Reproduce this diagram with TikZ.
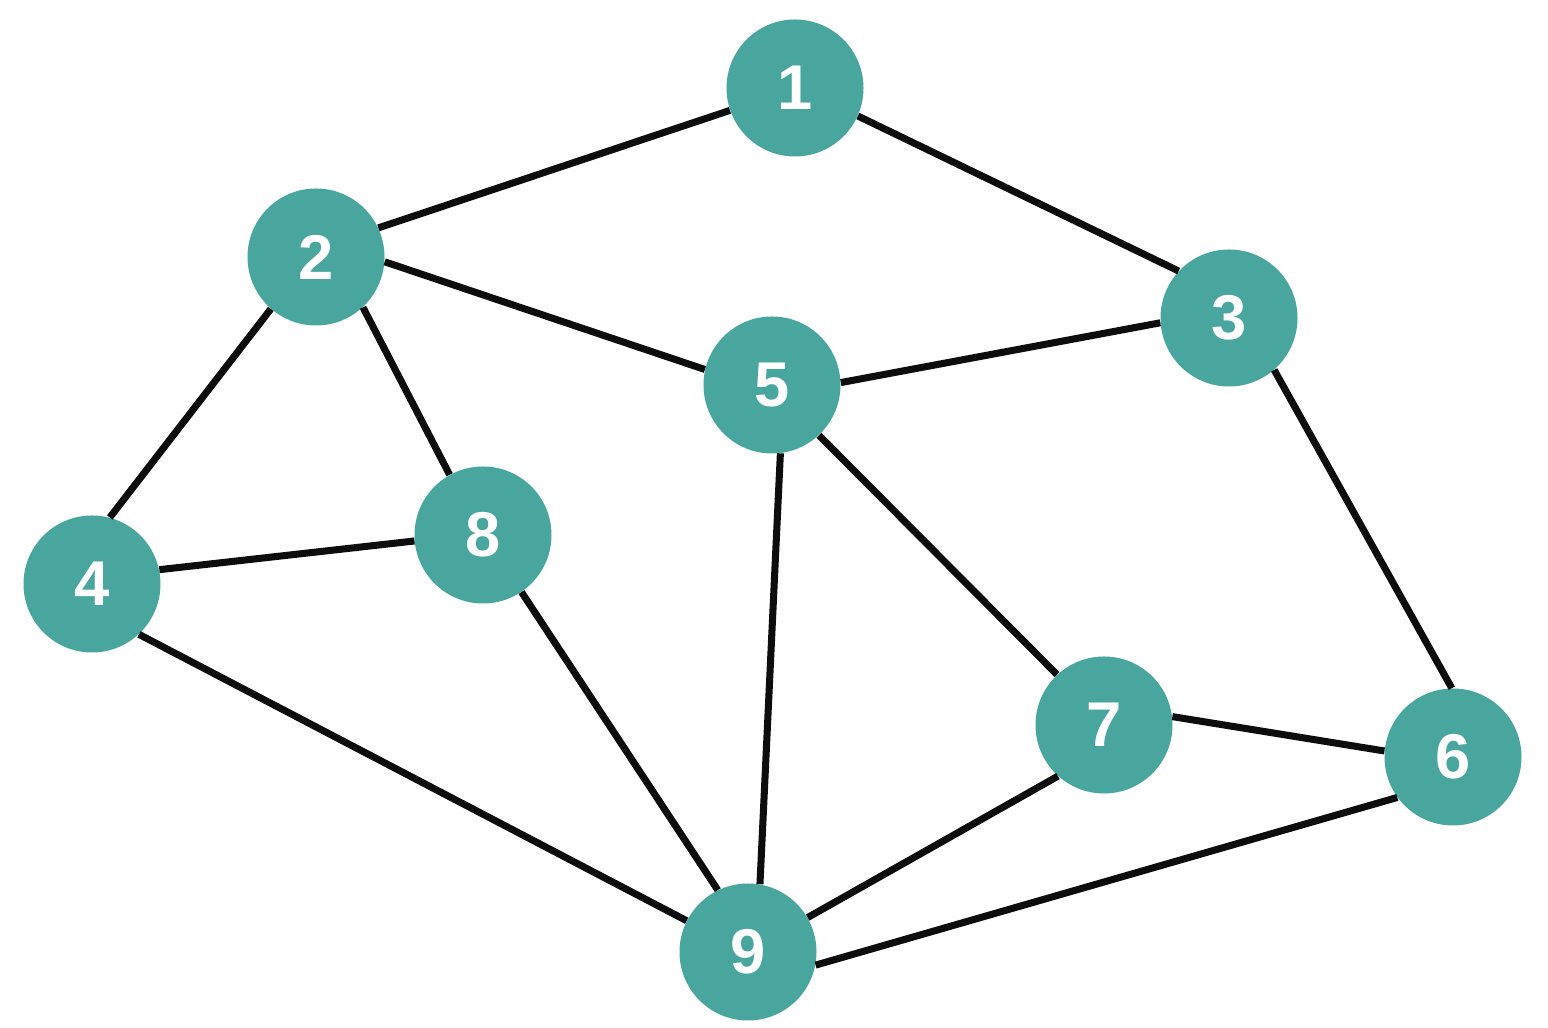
\documentclass[tikz,border=0pt]{standalone}
\usepackage{fontspec}
\setmainfont{Liberation Sans}
\usepackage{tikz}
\usetikzlibrary{positioning}

\definecolor{nodeteal}{RGB}{72,166,158}

\begin{document}
\begin{tikzpicture}[
    vertex/.style={circle, minimum size=2.74cm, inner sep=0pt, fill=nodeteal, text=white, font=\fontsize{36}{42}\selectfont\bfseries},
    edge/.style={line width=4pt, black!95}
]

\useasboundingbox (0,0) rectangle (30.96,20.56);

\node (v1) [vertex] at (15.90,18.80) {1};
\node (v2) [vertex] at (6.32,15.42) {2};
\node (v3) [vertex] at (24.58,14.20) {3};
\node (v4) [vertex] at (1.84,8.88) {4};
\node (v5) [vertex] at (15.44,12.86) {5};
\node (v6) [vertex] at (29.06,5.42) {6};
\node (v7) [vertex] at (22.08,6.06) {7};
\node (v8) [vertex] at (9.66,9.86) {8};
\node (v9) [vertex] at (14.96,1.52) {9};

\draw [edge] (v1.199) -- (v2.25);
\draw [edge] (v1.-24) -- (v3.137);
\draw [edge] (v2.-4) -- (v5.167);
\draw [edge] (v2.229) -- (v4.75);
\draw [edge] (v2.313) -- (v8.119);
\draw [edge] (v3.184) -- (v5.2);
\draw [edge] (v3.311) -- (v6.91);
\draw [edge] (v4.12) -- (v8.185);
\draw [edge] (v4.313) -- (v9.153);
\draw [edge] (v5.313) -- (v7.133);
\draw [edge] (v5.277) -- (v9.80);
\draw [edge] (v8.304) -- (v9.116);
\draw [edge] (v7.7) -- (v6.175);
\draw [edge] (v7.228) -- (v9.30);
\draw [edge] (v6.216) -- (v9.349);

\end{tikzpicture}
\end{document}
